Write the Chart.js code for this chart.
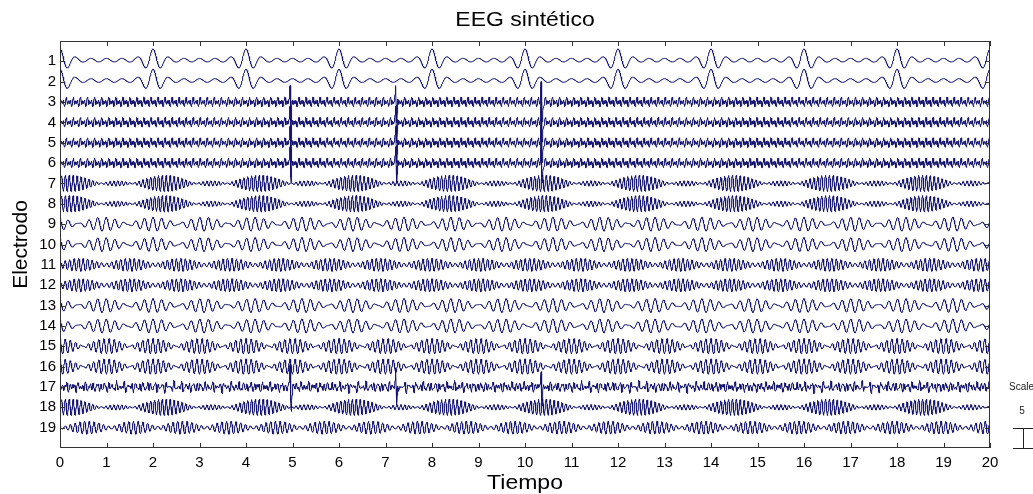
<!DOCTYPE html>
<html lang="es">
<head>
<meta charset="utf-8">
<title>EEG sintético</title>
<script src="https://cdn.jsdelivr.net/npm/chart.js@4.4.1/dist/chart.umd.min.js"></script>
<style>
  html, body { margin: 0; padding: 0; background: #fff; }
  #wrap { width: 1033px; height: 494px; }
</style>
</head>
<body>
<div id="wrap"><canvas id="eegChart" width="1033" height="494"></canvas></div>
<script>
// --- DATOS ---
const channelLabels = [1, 2, 3, 4, 5, 6, 7, 8, 9, 10, 11, 12, 13, 14, 15, 16, 17, 18, 19];
const timeTicks = [0, 1, 2, 3, 4, 5, 6, 7, 8, 9, 10, 11, 12, 13, 14, 15, 16, 17, 18, 19, 20];
const durationSec = 20;
const sampleRate = 200;
const unitsPerRow = 5; // barra de escala: 5 unidades = separación entre electrodos

// Ritmo de fondo de cada electrodo: frecuencias (Hz), amplitudes (unidades) y fases (rad)
const channelFreqs = [
  [3], [3],
  [6.6, 13.2, 19.8, 26.4], [6.6, 13.2, 19.8, 26.4], [6.6, 13.2, 19.8, 26.4], [6.6, 13.2, 19.8, 26.4],
  [11.5, 11.99, 12.48], [11.5, 11.99, 12.48],
  [5.0, 5.93], [5.0, 5.93],
  [10.0, 10.93], [10.0, 10.93],
  [5.0, 5.93], [5.0, 5.93],
  [8.5, 9.5], [8.5, 9.5],
  [7.3, 12.1, 17.9, 23.5],
  [11.5, 11.99, 12.48],
  [9.5, 10.48]
];
const channelAmps = [
  [0.45], [0.45],
  [0.35, 0.6, 0.45, 0.25], [0.35, 0.6, 0.45, 0.25], [0.35, 0.6, 0.45, 0.25], [0.35, 0.6, 0.45, 0.25],
  [0.75, 0.7, 0.6], [0.75, 0.7, 0.6],
  [0.95, 0.75], [0.95, 0.75],
  [1.0, 0.6], [1.0, 0.6],
  [0.95, 0.75], [0.95, 0.75],
  [1.0, 0.9], [1.0, 0.9],
  [0.4, 0.6, 0.45, 0.25],
  [0.75, 0.7, 0.6],
  [0.95, 0.65]
];
const channelPhases = [
  [0], [0],
  [0, 1.2, 2.5, 0.7], [0, 1.2, 2.5, 0.7], [0, 1.2, 2.5, 0.7], [0, 1.2, 2.5, 0.7],
  [4.399, 3.783, 3.167], [4.399, 3.783, 3.167],
  [0, 0.863], [0, 0.863],
  [0, -2.51], [0, -2.51],
  [0, 0.863], [0, 0.863],
  [0, 0], [0, 0],
  [0.4, 2.0, 1.1, 3.0],
  [4.399, 3.783, 3.167],
  [0, 2.71]
];
const channelOffsets = [0.3, 0.3, 0, 0, 0, 0, 0, 0, 0, 0, 0, 0, 0, 0, 0, 0, 0, 0, 0];

// Complejos lentos periódicos en los electrodos 1 y 2
const burstChannels = [1, 2];
const burstTimes = [0, 2, 4, 6, 8, 10, 12, 14, 16, 18, 20];
const burstFreq = 3;
const burstAmp = 2.3;
const burstWidth = 0.17;

// Puntas epileptiformes
const spikeChannels = [3, 4, 5, 6, 17];
const spikeTimes = [4.96, 7.23, 10.36];
const spikeAmp = 5.3;
const spikeWidth = 0.012;

const traceColor = "rgb(20, 20, 110)";
const fontFamily = '"Liberation Sans", Arial, Helvetica, sans-serif';

// --- SEÑAL DE CADA ELECTRODO ---
function channelSignal(ch, t) {
  const i = ch - 1;
  let s = channelOffsets[i];
  channelFreqs[i].forEach((f, k) => {
    s += channelAmps[i][k] * Math.cos(2 * Math.PI * f * t + channelPhases[i][k]);
  });

  if (burstChannels.includes(ch)) {
    let env = 0;
    burstTimes.forEach((tb) => {
      env += Math.exp(-((t - tb) ** 2) / (2 * burstWidth * burstWidth));
    });
    s += burstAmp * env * Math.cos(2 * Math.PI * burstFreq * t);
  }

  if (spikeChannels.includes(ch)) {
    spikeTimes.forEach((ts) => {
      const u = (t - ts) / spikeWidth;
      if (Math.abs(u) < 8) s += spikeAmp * -u * Math.exp(0.5 - (u * u) / 2);
    });
  }
  return s;
}

function buildDatasets() {
  const n = durationSec * sampleRate;
  return channelLabels.map((ch) => {
    const points = [];
    for (let k = 0; k <= n; k++) {
      const t = k / sampleRate;
      // eje invertido: hacia arriba es un valor menor
      points.push({ x: t, y: ch - channelSignal(ch, t) / unitsPerRow });
    }
    return {
      label: `Electrodo ${ch}`,
      data: points,
      borderColor: traceColor,
      borderWidth: 1,
      pointRadius: 0,
      tension: 0,
    };
  });
}

// --- MARCO, TEXTOS Y BARRA DE ESCALA ---
const eegFrame = {
  id: "eegFrame",
  afterDraw(chart) {
    const { ctx, chartArea: a, scales } = chart;
    const xs = scales.x;
    const ys = scales.y;
    ctx.save();

    // caja con marcas hacia dentro
    ctx.strokeStyle = "#333";
    ctx.lineWidth = 1;
    ctx.strokeRect(a.left + 0.5, a.top + 0.5, a.right - a.left - 1, a.bottom - a.top - 1);
    ctx.beginPath();
    timeTicks.forEach((v) => {
      const px = Math.round(xs.getPixelForValue(v)) + 0.5;
      ctx.moveTo(px, a.bottom);
      ctx.lineTo(px, a.bottom - 5);
      ctx.moveTo(px, a.top);
      ctx.lineTo(px, a.top + 5);
    });
    channelLabels.forEach((v) => {
      const py = Math.round(ys.getPixelForValue(v)) + 0.5;
      ctx.moveTo(a.left, py);
      ctx.lineTo(a.left + 5, py);
      ctx.moveTo(a.right, py);
      ctx.lineTo(a.right - 5, py);
    });
    ctx.stroke();

    ctx.fillStyle = "#000";
    const cx = (a.left + a.right) / 2;

    // título
    ctx.save();
    ctx.translate(cx, 20);
    ctx.scale(1.15, 1);
    ctx.font = `20px ${fontFamily}`;
    ctx.textAlign = "center";
    ctx.textBaseline = "middle";
    ctx.fillText("EEG sintético", 0, 0);
    ctx.restore();

    // eje x
    ctx.save();
    ctx.translate(cx, 483);
    ctx.scale(1.15, 1);
    ctx.font = `20px ${fontFamily}`;
    ctx.textAlign = "center";
    ctx.textBaseline = "middle";
    ctx.fillText("Tiempo", 0, 0);
    ctx.restore();

    // eje y
    ctx.save();
    ctx.translate(21, (a.top + a.bottom) / 2);
    ctx.rotate(-Math.PI / 2);
    ctx.font = `21px ${fontFamily}`;
    ctx.textAlign = "center";
    ctx.textBaseline = "middle";
    ctx.fillText("Electrodo", 0, 0);
    ctx.restore();

    // barra de escala: una separación entre electrodos = unitsPerRow
    const yTop = Math.round(ys.getPixelForValue(19)) + 0.5;
    const yBot = Math.round(ys.getPixelForValue(20)) + 0.5;
    const bx = 1023.5;
    ctx.strokeStyle = "#222";
    ctx.beginPath();
    ctx.moveTo(bx, yTop);
    ctx.lineTo(bx, yBot);
    ctx.moveTo(1013, yTop);
    ctx.lineTo(1033, yTop);
    ctx.moveTo(1013, yBot);
    ctx.lineTo(1033, yBot);
    ctx.stroke();

    ctx.fillStyle = "#222";
    ctx.font = `10px ${fontFamily}`;
    ctx.textAlign = "left";
    ctx.textBaseline = "middle";
    ctx.fillText("Scale", 1009, ys.getPixelForValue(17));
    ctx.textAlign = "center";
    ctx.fillText(String(unitsPerRow), 1022, ys.getPixelForValue(18.2));

    ctx.restore();
  },
};

document.addEventListener("DOMContentLoaded", () => {
  const ctx = document.getElementById("eegChart").getContext("2d");
  new Chart(ctx, {
    type: "line",
    data: { datasets: buildDatasets() },
    options: {
      responsive: false,
      animation: false,
      events: [],
      parsing: false,
      layout: { padding: { top: 41, right: 43, left: 0, bottom: 0 } },
      plugins: {
        legend: { display: false },
        tooltip: { enabled: false },
        title: { display: false },
      },
      scales: {
        x: {
          type: "linear",
          min: 0,
          max: durationSec,
          grid: { display: false, drawTicks: false },
          border: { display: false },
          afterBuildTicks: (scale) => {
            scale.ticks = timeTicks.map((v) => ({ value: v }));
          },
          afterFit: (scale) => {
            scale.height = 46;
          },
          ticks: {
            autoSkip: false,
            maxRotation: 0,
            padding: 6,
            color: "#000",
            font: { family: fontFamily, size: 15 },
          },
        },
        y: {
          type: "linear",
          min: 0,
          max: 20,
          reverse: true,
          grid: { display: false, drawTicks: false },
          border: { display: false },
          afterBuildTicks: (scale) => {
            scale.ticks = channelLabels.map((v) => ({ value: v }));
          },
          afterFit: (scale) => {
            scale.width = 60;
          },
          ticks: {
            autoSkip: false,
            padding: 4,
            color: "#000",
            font: { family: fontFamily, size: 15 },
          },
        },
      },
    },
    plugins: [eegFrame],
  });
});
</script>
</body>
</html>
